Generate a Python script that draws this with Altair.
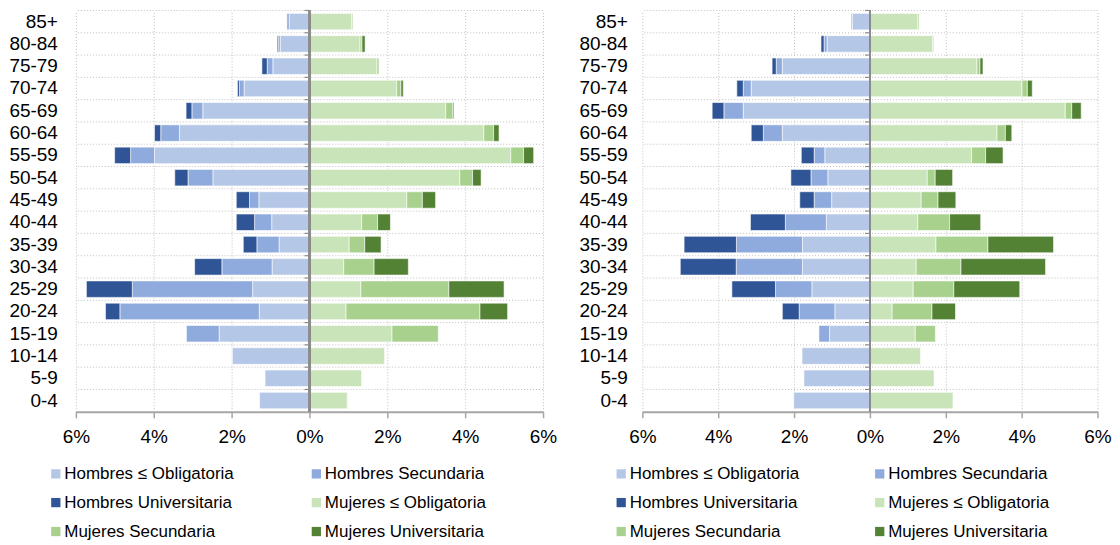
import altair as alt
import pandas as pd

ages = ["85+", "80-84", "75-79", "70-74", "65-69", "60-64", "55-59", "50-54", "45-49",
        "40-44", "35-39", "30-34", "25-29", "20-24", "15-19", "10-14", "5-9", "0-4"]

series = ["Hombres ≤ Obligatoria", "Hombres Secundaria", "Hombres Universitaria",
          "Mujeres ≤ Obligatoria", "Mujeres Secundaria", "Mujeres Universitaria"]
colors = ["#B4C7E7", "#8FAADC", "#2F5597", "#C9E4B9", "#A9D18E", "#548235"]

# Left panel (percent of population)
h_obl_L = [0.52, 0.75, 0.94, 1.68, 2.74, 3.34, 3.98, 2.48, 1.30, 0.97, 0.78, 0.96, 1.46, 1.29, 2.32, 1.98, 1.14, 1.28]
h_sec_L = [0.06, 0.05, 0.145, 0.12, 0.28, 0.48, 0.615, 0.64, 0.24, 0.44, 0.57, 1.29, 3.09, 3.58, 0.84, 0, 0, 0]
h_uni_L = [0, 0.03, 0.137, 0.05, 0.15, 0.16, 0.41, 0.34, 0.34, 0.47, 0.35, 0.70, 1.18, 0.37, 0, 0, 0, 0]
m_obl_L = [1.085, 1.30, 1.735, 2.24, 3.50, 4.48, 5.17, 3.86, 2.50, 1.34, 1.02, 0.88, 1.32, 0.94, 2.12, 1.93, 1.34, 0.97]
m_sec_L = [0.03, 0.05, 0.05, 0.11, 0.18, 0.25, 0.33, 0.33, 0.40, 0.41, 0.40, 0.78, 2.26, 3.44, 1.19, 0, 0, 0]
m_uni_L = [0, 0.08, 0, 0.06, 0.03, 0.14, 0.26, 0.22, 0.34, 0.33, 0.42, 0.88, 1.42, 0.71, 0, 0, 0, 0]

# Right panel
h_obl_R = [0.46, 1.13, 2.31, 3.13, 3.34, 2.31, 1.19, 1.11, 1.01, 1.15, 1.78, 1.78, 1.53, 0.925, 1.065, 1.79, 1.74, 2.01]
h_sec_R = [0.035, 0.08, 0.16, 0.21, 0.51, 0.50, 0.28, 0.445, 0.46, 1.08, 1.74, 1.745, 0.96, 0.94, 0.28, 0, 0, 0]
h_uni_R = [0, 0.08, 0.11, 0.17, 0.31, 0.32, 0.34, 0.53, 0.38, 0.92, 1.38, 1.475, 1.15, 0.445, 0, 0, 0, 0]
m_obl_R = [1.265, 1.65, 2.82, 4.01, 5.15, 3.35, 2.68, 1.51, 1.35, 1.26, 1.74, 1.22, 1.14, 0.585, 1.195, 1.335, 1.69, 2.19]
m_sec_R = [0.03, 0.03, 0.08, 0.14, 0.17, 0.22, 0.37, 0.21, 0.445, 0.84, 1.37, 1.18, 1.07, 1.05, 0.53, 0, 0, 0]
m_uni_R = [0, 0, 0.08, 0.13, 0.25, 0.17, 0.46, 0.46, 0.47, 0.82, 1.73, 2.23, 1.74, 0.62, 0, 0, 0, 0]

x_ticks = [-6, -4, -2, 0, 2, 4, 6]


def build_df(cols):
    rows = []
    for k, (name, vals) in enumerate(zip(series, cols)):
        sign = -1 if k < 3 else 1
        for a, v in zip(ages, vals):
            if v > 0:
                rows.append({"age": a, "serie": name, "value": sign * v, "ord": k % 3})
    return pd.DataFrame(rows)


grid_df = pd.DataFrame({"age": ages})

GRID = "#BFBFBF"
AXIS = "#A6A6A6"
ZERO = "#8C8C8C"


def panel(cols, w, legend_x, col_pad, label_pad):
    df = build_df(cols)
    yscale = alt.Scale(domain=ages, paddingInner=0, paddingOuter=0)
    xscale = alt.Scale(domain=[-6, 6], nice=False)
    yaxis = alt.Axis(labelFontSize=19, labelColor="black", labelPadding=label_pad,
                     ticks=False, domain=False, grid=False)

    hgrid = alt.Chart(grid_df).mark_rule(color=GRID, strokeDash=[1, 2], strokeWidth=1).encode(
        y=alt.Y("age:N", scale=yscale, bandPosition=0, axis=yaxis, title=None)
    )

    bars = alt.Chart(df).mark_bar(
        height=alt.RelativeBandSize(0.74), stroke="white", strokeWidth=0.6
    ).encode(
        y=alt.Y("age:N", scale=yscale, title=None, axis=yaxis),
        x=alt.X("value:Q", scale=xscale, stack="zero", title=None,
                axis=alt.Axis(values=x_ticks, labelExpr="abs(datum.value) + '%'",
                              labelFontSize=19, labelColor="black", labelPadding=10,
                              labelFlush=False, labelOverlap=False,
                              tickSize=6, tickColor=AXIS, tickWidth=1.5,
                              domainColor=AXIS, domainWidth=2,
                              grid=True, gridColor=GRID, gridDash=[1, 2], gridWidth=1)),
        color=alt.Color("serie:N", scale=alt.Scale(domain=series, range=colors),
                        legend=alt.Legend(orient="none", legendX=legend_x, legendY=455.5,
                                          direction="horizontal",
                                          columns=2, columnPadding=col_pad, rowPadding=11,
                                          symbolType="square", symbolSize=86,
                                          symbolStrokeWidth=0, labelFontSize=17,
                                          labelColor="black", labelOffset=0,
                                          labelLimit=0, title=None)),
        order=alt.Order("ord:Q"),
    )

    zticks = alt.Chart(grid_df).mark_rule(color=ZERO, strokeWidth=1.2).encode(
        y=alt.Y("age:N", scale=yscale, bandPosition=0, axis=yaxis, title=None),
        x=alt.datum(-0.13),
        x2=alt.datum(0),
    )

    zero = alt.Chart(grid_df).mark_rule(color=ZERO, strokeWidth=1.4).encode(
        x=alt.datum(0)
    )

    return alt.layer(hgrid, bars, zticks, zero).properties(width=w, height=402)


left = panel([h_obl_L, h_sec_L, h_uni_L, m_obl_L, m_sec_L, m_uni_L], 468, -28.6, 74, 18.5)
right = panel([h_obl_R, h_sec_R, h_uni_R, m_obl_R, m_sec_R, m_uni_R], 456, -29.7, 72, 15)

chart = alt.hconcat(left, right, spacing=21.5).resolve_scale(
    color="independent"
).resolve_legend(color="independent").properties(
    padding={"left": 0, "top": 1, "right": 0, "bottom": 0}
).configure(
    font="Liberation Sans"
).configure_view(stroke=None)

chart.save("out.html", embed_options={"renderer": "svg", "actions": False})
